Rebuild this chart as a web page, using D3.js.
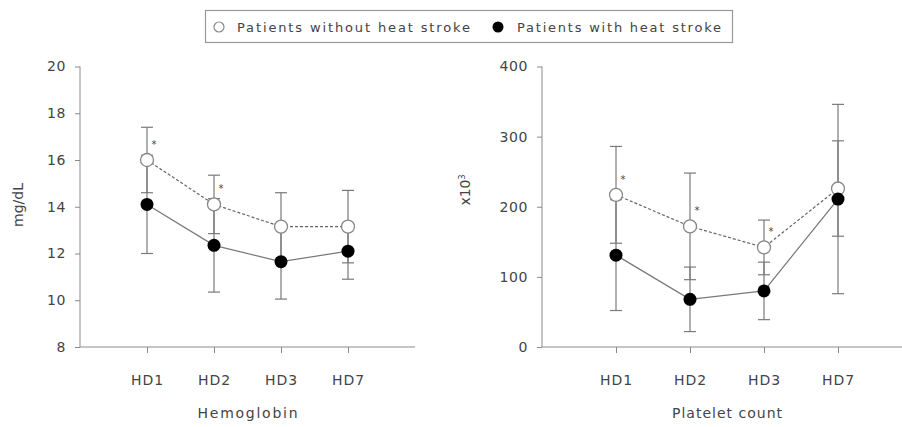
<!DOCTYPE html>
<html>
<head>
<meta charset="utf-8">
<script src="https://cdn.jsdelivr.net/npm/d3@7"></script>
<style>
  body { margin: 0; background: #fff; }
  svg text { font-family: "DejaVu Sans", sans-serif; fill: #444; }
</style>
</head>
<body>
<div id="chart"></div>
<script>
// categories
const days = ['HD1', 'HD2', 'HD3', 'HD7']

// Hemoglobin (mg/dL), mean and SD
const hbWithout = [16.0, 14.1, 13.15, 13.15]
const hbWithoutSd = [1.4, 1.25, 1.45, 1.55]
const hbWith = [14.1, 12.35, 11.65, 12.1]
const hbWithSd = [2.1, 2.0, 1.6, 1.2]
const hbSig = [true, true, false, false]
const hbTicks = [8, 10, 12, 14, 16, 18, 20]

// Platelet count (x10^3), mean and SD
const pltWithout = [217, 172, 142, 226]
const pltWithoutSd = [69, 76, 39, 68]
const pltWith = [131, 68, 80, 211]
const pltWithSd = [79, 46, 41, 135]
const pltSig = [true, true, true, false]
const pltTicks = [0, 100, 200, 300, 400]

const legendLabels = ['Patients without heat stroke', 'Patients with heat stroke']

const W = 902, H = 427
const svg = d3.select('#chart').append('svg')
  .attr('width', W)
  .attr('height', H)

const axisColor = '#8a8a8a'
const barColor = '#7a7a7a'

//draws one panel
function panel(opt) {
  const x = d3.scaleLinear().domain([0, 5]).range([opt.x0, opt.x1])
  const y = d3.scaleLinear().domain(opt.domain).range([347, 66.5])
  const g = svg.append('g')

  // y axis
  const ya = g.append('g')
    .attr('transform', 'translate(' + opt.x0 + ',0)')
    .call(d3.axisLeft(y).tickValues(opt.ticks).tickSize(5).tickPadding(9))
  ya.select('.domain').attr('stroke', axisColor).attr('d', 'M0,' + y(opt.domain[1]) + 'V' + y(opt.domain[0]))
  ya.selectAll('.tick line').attr('stroke', axisColor)
  ya.selectAll('.tick text')
    .style('font-size', '14px')
    .style('letter-spacing', '0.6px')
    .attr('fill', '#444')

  // x axis
  const xa = g.append('g')
    .attr('transform', 'translate(0,' + y(opt.domain[0]) + ')')
    .call(d3.axisBottom(x).tickValues([1, 2, 3, 4]).tickFormat((d, i) => days[i]).tickSize(6).tickPadding(22))
  xa.select('.domain').attr('stroke', axisColor).attr('d', 'M' + opt.x0 + ',0H' + opt.x1)
  xa.selectAll('.tick line').attr('stroke', axisColor)
  xa.selectAll('.tick text')
    .style('font-size', '14px')
    .style('letter-spacing', '1px')
    .attr('fill', '#444')

  // axis titles
  g.append('text')
    .attr('x', (x(1) + x(4)) / 2)
    .attr('y', 418)
    .attr('text-anchor', 'middle')
    .style('font-size', '14px')
    .attr('textLength', opt.titleLen)
    .attr('lengthAdjust', 'spacing')
    .text(opt.title)

  const yl = g.append('text')
    .attr('transform', 'translate(' + opt.ylx + ',' + opt.yly + ') rotate(-90)')
    .attr('text-anchor', 'middle')
    .style('font-size', '14px')
  yl.append('tspan').text(opt.ylabel)
  if (opt.ysup) yl.append('tspan').attr('dy', -5).style('font-size', '8px').text(opt.ysup)

  // error bars
  const series = [
    {m: opt.without, sd: opt.withoutSd},
    {m: opt.with, sd: opt.withSd}
  ]
  series.forEach(s => {
    const eb = g.append('g').attr('stroke', barColor).attr('stroke-width', 1.2)
    eb.selectAll('line.v').data(s.m).enter().append('line')
      .attr('x1', (d, i) => x(i + 1)).attr('x2', (d, i) => x(i + 1))
      .attr('y1', (d, i) => y(d - s.sd[i])).attr('y2', (d, i) => y(d + s.sd[i]))
    ;[1, -1].forEach(sign => {
      eb.selectAll(null).data(s.m).enter().append('line')
        .attr('x1', (d, i) => x(i + 1) - 6).attr('x2', (d, i) => x(i + 1) + 6)
        .attr('y1', (d, i) => y(d + sign * s.sd[i])).attr('y2', (d, i) => y(d + sign * s.sd[i]))
    })
  })

  // lines
  const line = d3.line().x((d, i) => x(i + 1)).y(d => y(d))
  g.append('path').datum(opt.with)
    .attr('d', line).attr('fill', 'none')
    .attr('stroke', '#777').attr('stroke-width', 1.2)
  g.append('path').datum(opt.without)
    .attr('d', line).attr('fill', 'none')
    .attr('stroke', '#666').attr('stroke-width', 1.2)
    .attr('stroke-dasharray', '3,2')

  // markers
  g.selectAll('circle.open').data(opt.without).enter().append('circle')
    .attr('cx', (d, i) => x(i + 1)).attr('cy', d => y(d)).attr('r', 6.5)
    .attr('fill', '#fff').attr('stroke', '#888').attr('stroke-width', 1.3)
  g.selectAll('circle.full').data(opt.with).enter().append('circle')
    .attr('cx', (d, i) => x(i + 1)).attr('cy', d => y(d)).attr('r', 6.5)
    .attr('fill', '#000')

  // significance marks
  g.selectAll('text.sig').data(opt.without).enter()
    .filter((d, i) => opt.sig[i])
    .append('text')
    .attr('x', (d, i) => x(opt.without.indexOf(d) + 1) + 7)
    .attr('y', d => y(d) - 12)
    .attr('text-anchor', 'middle')
    .style('font-size', '10px')
    .text('*')
}

panel({
  x0: 80, x1: 415, domain: [8, 20], ticks: hbTicks,
  without: hbWithout, withoutSd: hbWithoutSd, with: hbWith, withSd: hbWithSd, sig: hbSig,
  title: 'Hemoglobin', titleLen: 100, ylabel: 'mg/dL', ylx: 23, yly: 205
})
panel({
  x0: 542, x1: 912, domain: [0, 400], ticks: pltTicks,
  without: pltWithout, withoutSd: pltWithoutSd, with: pltWith, withSd: pltWithSd, sig: pltSig,
  title: 'Platelet count', titleLen: 110, ylabel: 'x10', ysup: '3', ylx: 470, yly: 190
})

// legend
const lg = svg.append('g')
lg.append('rect')
  .attr('x', 205.5).attr('y', 10.5).attr('width', 527).attr('height', 32)
  .attr('fill', '#fff').attr('stroke', '#999').attr('stroke-width', 1.2)
lg.append('circle').attr('cx', 219).attr('cy', 27).attr('r', 5)
  .attr('fill', '#fff').attr('stroke', '#888').attr('stroke-width', 1.2)
lg.append('circle').attr('cx', 498).attr('cy', 27).attr('r', 5.5).attr('fill', '#000')
lg.append('text').attr('x', 237).attr('y', 32)
  .style('font-size', '13px')
  .attr('textLength', 233).attr('lengthAdjust', 'spacing')
  .text(legendLabels[0])
lg.append('text').attr('x', 517).attr('y', 32)
  .style('font-size', '13px')
  .attr('textLength', 204).attr('lengthAdjust', 'spacing')
  .text(legendLabels[1])
</script>
</body>
</html>
